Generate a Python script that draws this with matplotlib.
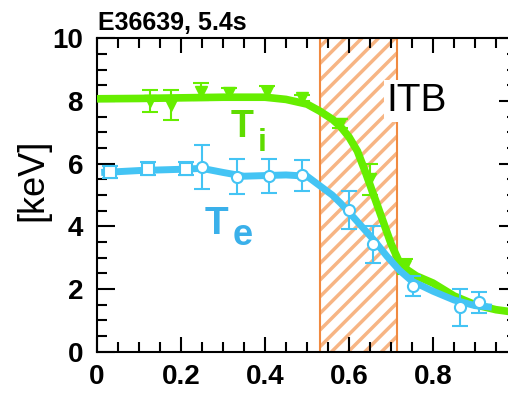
import matplotlib
matplotlib.use('Agg')
import matplotlib.pyplot as plt
from matplotlib.ticker import MultipleLocator

plt.rcParams['font.family'] = ['Liberation Sans', 'DejaVu Sans']
plt.rcParams['hatch.linewidth'] = 2.5

# Ion temperature: fitted profile and measured points
ti_fit_x = [0.0, 0.1, 0.2, 0.3, 0.35, 0.4, 0.45, 0.5, 0.53, 0.56, 0.58, 0.6, 0.62,
            0.64, 0.66, 0.68, 0.70, 0.72, 0.74, 0.76, 0.8, 0.85, 0.9, 0.95, 1.0]
ti_fit_y = [8.07, 8.08, 8.1, 8.12, 8.12, 8.12, 8.05, 7.9, 7.68, 7.42, 7.18, 6.85, 6.4,
            5.7, 4.95, 4.2, 3.45, 2.85, 2.6, 2.42, 2.19, 1.78, 1.5, 1.34, 1.25]
ti_x = [0.125, 0.177, 0.248, 0.315, 0.405, 0.487, 0.578, 0.65, 0.733]
ti_y = [7.99, 7.87, 8.3, 8.25, 8.3, 8.1, 7.28, 5.5, 2.72]
ti_err = [0.35, 0.47, 0.28, 0.17, 0.17, 0.1, 0.15, 0.5, 0.25]

# Electron temperature: fitted profile, square and circle points
te_fit_x = [0.01, 0.03, 0.1, 0.2, 0.25, 0.3, 0.35, 0.4, 0.45, 0.5, 0.53, 0.56, 0.58,
            0.6, 0.63, 0.66, 0.69, 0.72, 0.75, 0.8, 0.85, 0.9, 0.94]
te_fit_y = [5.72, 5.73, 5.78, 5.82, 5.85, 5.72, 5.6, 5.62, 5.64, 5.6, 5.3, 5.0, 4.74,
            4.45, 4.0, 3.55, 3.05, 2.6, 2.25, 1.93, 1.65, 1.47, 1.42]
te_sq_x = [0.031, 0.122, 0.211]
te_sq_y = [5.73, 5.84, 5.84]
te_sq_err = [0.2, 0.2, 0.2]
te_x = [0.251, 0.333, 0.41, 0.489, 0.601, 0.658, 0.753, 0.864, 0.91]
te_y = [5.89, 5.59, 5.61, 5.63, 4.53, 3.43, 2.1, 1.42, 1.57]
te_err = [0.69, 0.55, 0.55, 0.5, 0.6, 0.59, 0.32, 0.59, 0.35]

itb_range = (0.53, 0.715)

green = '#66ee00'
blue = '#44c4f4'
orange_edge = '#f08a40'
orange_hatch = '#f7b584'

fig = plt.figure(figsize=(5.08, 3.98), dpi=100)
ax = fig.add_axes([97 / 508, 1 - 351.7 / 398, 420 / 508, 313.4 / 398])

# ITB region
ax.axvspan(*itb_range, facecolor='white', edgecolor=orange_hatch, hatch='//',
           linewidth=0, zorder=1)
ax.axvline(itb_range[0], color=orange_edge, lw=1.5, zorder=1.5)
ax.axvline(itb_range[1], color=orange_edge, lw=1.5, zorder=1.5)
ax.text(0.69, 8.0, 'ITB', fontsize=28, ha='left', va='center', zorder=2,
        bbox=dict(facecolor='white', edgecolor='none', pad=2))

# Ti
ax.plot(ti_fit_x, ti_fit_y, color=green, lw=5.5, solid_capstyle='butt', zorder=3)
ax.errorbar(ti_x, ti_y, yerr=ti_err, fmt='v', color=green, ms=9, elinewidth=1.5,
            capsize=6, capthick=1.5, zorder=4)

# Te
ax.plot(te_fit_x, te_fit_y, color=blue, lw=5, solid_capstyle='butt', zorder=5)
ax.errorbar(te_sq_x, te_sq_y, yerr=te_sq_err, fmt='s', color=blue, mfc='white',
            mec=blue, mew=1.5, ms=9, elinewidth=1.5, capsize=6, capthick=1.5, zorder=6)
ax.errorbar(te_x, te_y, yerr=te_err, fmt='o', color=blue, mfc='white',
            mec=blue, mew=1.5, ms=8, elinewidth=1.5, capsize=6, capthick=1.5, zorder=6)

# species labels
ax.text(0.318, 6.85, 'T', color='#5fdc00', fontsize=27, fontweight='bold')
ax.text(0.382, 6.4, 'i', color='#5fdc00', fontsize=23, fontweight='bold')
ax.text(0.257, 3.75, 'T', color='#3ab0ea', fontsize=28, fontweight='bold')
ax.text(0.322, 3.4, 'e', color='#3ab0ea', fontsize=26, fontweight='bold')

ax.set_xlim(0, 1.0)
ax.set_ylim(0, 10)
ax.set_xticks([0, 0.2, 0.4, 0.6, 0.8])
ax.set_xticklabels(['0', '0.2', '0.4', '0.6', '0.8'])
ax.set_yticks([0, 2, 4, 6, 8, 10])
ax.xaxis.set_minor_locator(MultipleLocator(0.05))
ax.yaxis.set_minor_locator(MultipleLocator(0.5))
ax.tick_params(which='both', direction='in', top=True, right=True, width=1.5)
ax.tick_params(axis='x', which='major', length=11, pad=9)
ax.tick_params(axis='y', which='major', length=13, pad=10)
ax.tick_params(which='minor', length=7)
for lab in ax.get_xticklabels() + ax.get_yticklabels():
    lab.set_fontsize(20)
    lab.set_fontweight('bold')
for sp in ax.spines.values():
    sp.set_linewidth(1.5)

ax.set_ylabel('[keV]', fontsize=26)
ax.yaxis.set_label_coords(-0.11, 0.55)
fig.text(98 / 508, 1 - 30 / 398, 'E36639, 5.4s', fontsize=18, fontweight='bold',
         ha='left', va='baseline')

fig.savefig('out.png', dpi=100)
